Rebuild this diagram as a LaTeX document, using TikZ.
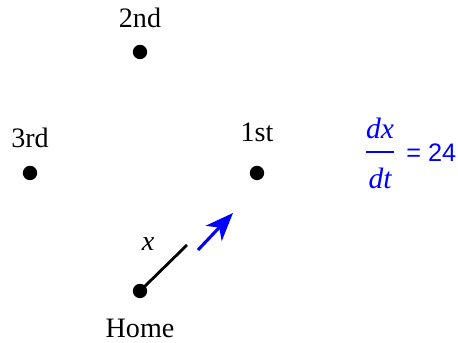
\documentclass[tikz,border=0pt]{standalone}
\usepackage{fontspec}
\setmainfont{Liberation Serif}
\newfontfamily\arialfont{Liberation Sans}
\usetikzlibrary{arrows.meta}
\definecolor{ratblue}{HTML}{0000FF}

\tikzset{
  base/.style={circle, fill=black, inner sep=0pt, minimum size=0.36cm},
  basename/.style={font=\fontsize{20}{24}\selectfont, text=black},
  ratetext/.style={font=\fontsize{21}{25}\selectfont\itshape, text=ratblue},
}

\begin{document}
\begin{tikzpicture}[>={Stealth[length=7mm, width=5.5mm, inset=2mm]}]

% Frame
\useasboundingbox (0,0) rectangle (11.45,8.575);

% Bases
\node[base] (home)   at (3.5,1.3)   {};
\node[base] (first)  at (6.425,4.25) {};
\node[base] (second) at (3.5,7.275) {};
\node[base] (third)  at (0.75,4.25) {};

% Base names
\node[basename] (homename)   at (3.5,0.375)   {Home};
\node[basename] (firstname)  at (6.425,5.275) {1st};
\node[basename] (secondname) at (3.5,8.125)   {2nd};
\node[basename] (thirdname)  at (0.75,5.125)  {3rd};

% Runner's distance x
\coordinate (runner) at (4.675,2.45);
\draw[black, line width=2pt] (home.center) -- (runner);
\node[basename, font=\fontsize{20}{24}\selectfont\itshape] (xname) at (3.7,2.475) {x};

% Velocity arrow
\coordinate (vtail) at (4.95,2.325);
\coordinate (vtip)  at (5.825,3.25);
\draw[ratblue, line width=2.2pt, ->] (vtail) -- (vtip);

% Rate dx/dt = 24
\node[ratetext] (dx) at (9.5,5.375) {dx};
\node[ratetext] (dt) at (9.5,4.125) {dt};
\coordinate (barl) at (9.15,4.775);
\coordinate (barr) at (9.85,4.775);
\draw[ratblue, line width=1pt] (barl) -- (barr);
\node[ratetext, font=\fontsize{18}{22}\selectfont\arialfont, anchor=west, inner sep=0pt]
  (rateval) at (10.15,4.76) {= 24};

\end{tikzpicture}
\end{document}
